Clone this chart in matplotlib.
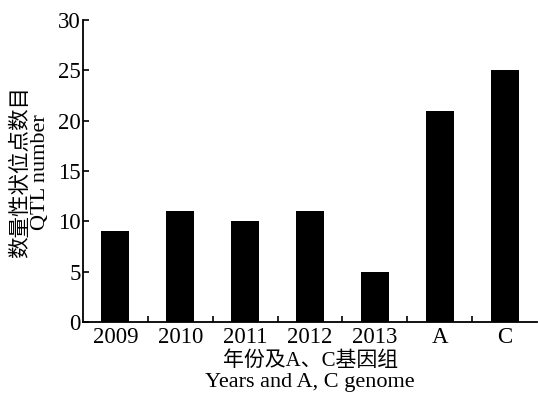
import matplotlib
matplotlib.use("Agg")
import matplotlib.pyplot as plt
import numpy as np

categories = ["2009", "2010", "2011", "2012", "2013", "A", "C"]
qtl_counts = [9, 11, 10, 11, 5, 21, 25]
y_ticks = [0, 5, 10, 15, 20, 25, 30]

fam = ["Liberation Serif", "Noto Sans CJK SC"]
plt.rcParams["font.family"] = fam

W, H = 538, 394
fig = plt.figure(figsize=(W / 100, H / 100), dpi=100)
ax = fig.add_axes([83 / W, 1 - 322 / H, (537 - 83) / W, (322 - 20) / H])

x = np.arange(len(categories))
ax.bar(x, qtl_counts, width=0.43, color="black")

ax.set_xlim(-0.5, len(categories) - 0.5)
ax.set_ylim(0, 30)
ax.set_yticks(y_ticks)
ax.set_xticks(x)
ax.set_xticklabels(categories)
ax.set_xticks(np.arange(0.5, len(categories) - 0.5, 1), minor=True)

for s in ["top", "right"]:
    ax.spines[s].set_visible(False)
for s in ["left", "bottom"]:
    ax.spines[s].set_linewidth(1.3)

ax.tick_params(axis="y", direction="in", length=4, width=1.2, labelsize=16.5, pad=1.5)
ax.tick_params(axis="x", which="major", length=0, labelsize=16.5, pad=3.5)
ax.tick_params(axis="x", which="minor", direction="in", length=4, width=1.2)

# axis titles (Chinese / English)
fig.text(21 / W, 1 - 172 / H, "数量性状位点数目", rotation=90, ha="center", va="center",
         fontsize=15.5, family=fam, fontweight="light")
fig.text(41 / W, 1 - 172 / H, "QTL number", rotation=90, ha="center", va="center",
         fontsize=16, family=fam)
fig.text(311 / W, 1 - 361 / H, "年份及A、C基因组", ha="center", va="center",
         fontsize=15, family=fam, fontweight="light")
fig.text(310 / W, 1 - 382 / H, "Years and A, C genome", ha="center", va="center",
         fontsize=16, family=fam)

fig.savefig("out.png", dpi=100)
